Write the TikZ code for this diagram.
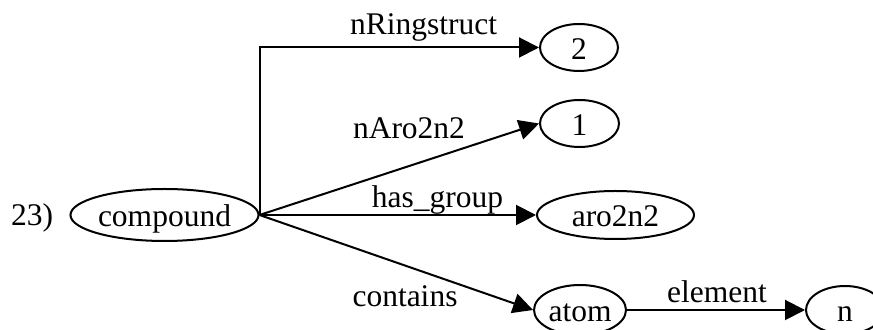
\documentclass[tikz,border=0pt]{standalone}
\usepackage{fontspec}
\setmainfont{Liberation Serif}
\usetikzlibrary{shapes.geometric,arrows.meta}
\begin{document}
\begin{tikzpicture}[x=0.5pt,y=-0.5pt,
  every node/.style={font=\fontsize{15.75}{18}\selectfont},
  oval/.style={draw, ellipse, line width=1pt, inner sep=0pt,
               text height=12pt, text depth=0pt},
  word/.style={anchor=base, inner sep=0pt},
  link/.style={draw, line width=1pt, -{Triangle[length=10pt,width=10pt]}},
]
\useasboundingbox (0,0) rectangle (873,330);
\clip (0,0) rectangle (873,330);

% entity ovals
\node[oval, minimum width=91.5pt, minimum height=26pt]   (compound) at (164.5,215)   {compound};
\node[oval, minimum width=39pt,   minimum height=23.5pt] (two)      at (579,47.5)    {2};
\node[oval, minimum width=39.5pt, minimum height=23.5pt] (one)      at (579.5,123.5) {1};
\node[oval, minimum width=78.5pt, minimum height=24pt]   (aro)      at (615.5,215)   {aro2n2};
\node[oval, minimum width=46pt,   minimum height=25pt]   (atom)     at (580,310)     {atom};
\node[oval, minimum width=39pt,   minimum height=24pt]   (nn)       at (845,310)     {n};

% rule number
\node[word] (num) at (32,226) {23)};

% relations
\draw[link] (compound.east) |- (two.west);
\draw[link] (compound.east) -- (one.west);
\draw[link] (compound.east) -- (aro.west);
\draw[link] (compound.east) -- (atom.west);
\draw[link] (atom.east) -- (nn.west);

% relation names
\node[word] (l-ring)  at (423.5,35) {nRingstruct};
\node[word] (l-aro)   at (409,139)  {nAro2n2};
\node[word] (l-group) at (437.5,208) {has\_group};
\node[word] (l-cont)  at (405,307)  {contains};
\node[word] (l-elem)  at (717,303)  {element};
\end{tikzpicture}
\end{document}
